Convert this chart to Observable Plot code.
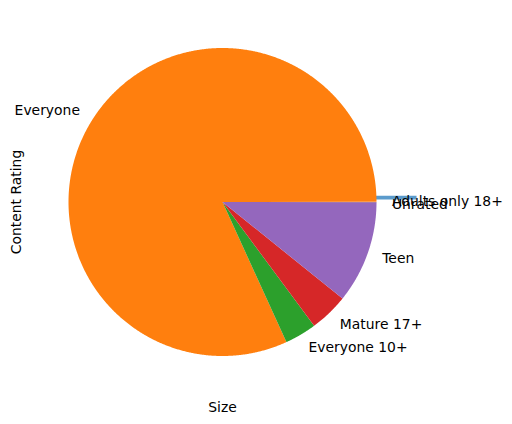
<!DOCTYPE html>
<html>
<head>
<meta charset="utf-8">
<script src="https://cdn.jsdelivr.net/npm/d3@7"></script>
<script src="https://cdn.jsdelivr.net/npm/@observablehq/plot@0.6"></script>
<style>
  html, body { margin: 0; padding: 0; background: #fff; }
  #chart { width: 512px; height: 424px; }
</style>
</head>
<body>
<div id="chart"></div>
<script>
const categories = ["Adults only 18+", "Everyone", "Everyone 10+", "Mature 17+", "Teen", "Unrated"];
const sizes = [0.03, 81.78, 3.33, 4.08, 10.76, 0.02];
const colors = ["#1f77b4", "#ff7f0e", "#2ca02c", "#d62728", "#9467bd", "#8c564b"];
const xLabel = "Size";
const yLabel = "Content Rating";

const W = 512, H = 424, cx = 222, cy = 201.5, R = 154;
const total = d3.sum(sizes);

// build slices (counter-clockwise from 0°, like matplotlib)
let acc = 0;
const slices = categories.map((c, i) => {
  const a0 = acc / total * 2 * Math.PI;
  acc += sizes[i];
  const a1 = acc / total * 2 * Math.PI;
  return {cat: c, a0, a1, color: colors[i], i};
});

const deg = Math.PI / 180;
const pts = [];
slices.forEach(s => {
  if (s.i === 0) {
    // tiny slice rendered as a thin sliver outside the pie, as in the reference
    const col = "#5b9bcc", y0 = 0.017, y1 = 0.041, r0 = 0.995, r1 = 1.26;
    [[r0, y0], [r1, y0], [r1, y1], [r0, y1]].forEach(([x, y]) =>
      pts.push({cat: s.cat, x, y, color: col}));
    return;
  }
  const a0 = s.a0, a1 = s.a1;
  pts.push({cat: s.cat, x: 0, y: 0, color: s.color});
  const n = Math.max(2, Math.ceil((a1 - a0) / (0.3 * deg)));
  for (let k = 0; k <= n; k++) {
    const a = a0 + (a1 - a0) * k / n;
    pts.push({cat: s.cat, x: Math.cos(a), y: Math.sin(a), color: s.color});
  }
});

const labels = slices.map(s => {
  const m = (s.a0 + s.a1) / 2;
  return {cat: s.cat, x: 1.1 * Math.cos(m), y: 1.1 * Math.sin(m), right: Math.cos(m) >= 0};
});

const chart = Plot.plot({
  width: W, height: H,
  margin: 0,
  x: {domain: [-cx / R, (W - cx) / R], range: [0, W], axis: null},
  y: {domain: [-(H - cy) / R, cy / R], range: [H, 0], axis: null},
  style: {fontFamily: "DejaVu Sans", fontSize: "13.9px", background: "#fff"},
  marks: [
    Plot.line(pts, {x: "x", y: "y", z: "cat", fill: "color", stroke: null, curve: "linear"}),
    Plot.text(labels.filter(d => d.right && d.cat !== "Unrated"), {x: "x", y: "y", text: "cat", textAnchor: "start", fill: "#000", fontSize: 13.9}),
    Plot.text(labels.filter(d => d.cat === "Unrated"), {x: "x", y: "y", text: "cat", textAnchor: "start", fill: "#000", fontSize: 13.9, dy: 2}),
    Plot.text(labels.filter(d => !d.right), {x: "x", y: "y", text: "cat", textAnchor: "end", fill: "#000", fontSize: 13.9}),
    Plot.text([xLabel], {x: 0, y: -(407 - cy) / R, text: d => d, fill: "#000", fontSize: 13.9}),
    Plot.text([yLabel], {x: -(cx - 16) / R, y: 0, text: d => d, rotate: -90, fill: "#000", fontSize: 13.9})
  ]
});
document.getElementById("chart").appendChild(chart);
</script>
</body>
</html>
